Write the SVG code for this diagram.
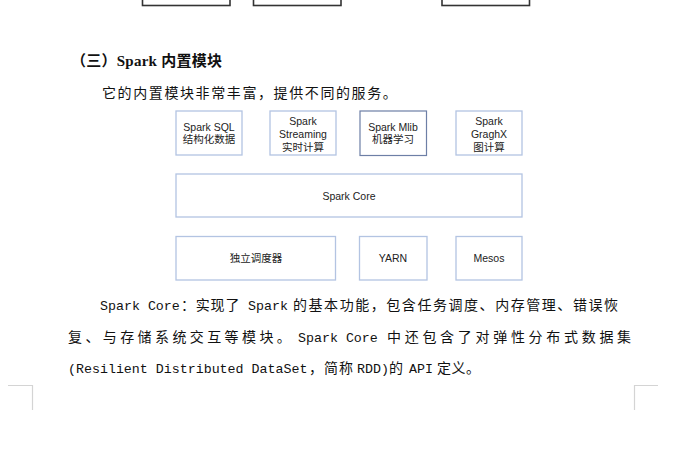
<svg xmlns="http://www.w3.org/2000/svg" width="685" height="449" viewBox="0 0 685 449">
<style>
.bg{fill:#ffffff}
.topbox{fill:#ffffff;stroke:#333333;stroke-width:1.6}
.box{fill:#ffffff;stroke:#b3c4e2;stroke-width:1.3}
.box.dark{stroke:#6d7fa6;stroke-width:1.2}
.lbl{font-family:"Liberation Sans","Noto Sans CJK SC",Arial,sans-serif;font-size:10.5px;fill:#222222;text-anchor:middle}
.head{font-family:"Liberation Serif","Noto Sans CJK SC",serif;font-size:15px;font-weight:bold;fill:#111111}
.body{fill:#111111}
.a{font-family:"Liberation Mono","Noto Sans CJK SC",monospace;font-size:13.3px}
.c{font-family:"Noto Sans CJK SC","Liberation Sans",sans-serif;font-size:14px}
.corner{fill:none;stroke:#d4d4d4;stroke-width:1.2}
</style>
<rect class="bg" x="0" y="0" width="685" height="449"/>
<g id="prev-boxes">
<rect class="topbox" x="142.5" y="-10" width="87.5" height="15.5"/>
<rect class="topbox" x="253.5" y="-10" width="87.5" height="15.5"/>
<rect class="topbox" x="442" y="-10" width="87.5" height="15.5"/>
</g>
<text class="head" x="71" y="66" textLength="151" lengthAdjust="spacing">（三）Spark 内置模块</text>
<text class="body c" x="102" y="98" style="letter-spacing:1.6px">它的内置模块非常丰富，提供不同的服务。</text>
<g id="connectors"></g>
<g id="spark-sql">
<rect class="box" x="176" y="111" width="66" height="44"/>
<text class="lbl" x="209" y="131">Spark SQL</text>
<text class="lbl" x="209" y="143">结构化数据</text>
</g>
<g id="spark-streaming">
<rect class="box" x="270" y="111" width="66" height="44"/>
<text class="lbl" x="303" y="125">Spark</text>
<text class="lbl" x="303" y="137.5">Streaming</text>
<text class="lbl" x="303" y="150.5">实时计算</text>
</g>
<g id="spark-mlib">
<rect class="box dark" x="360" y="111" width="66.5" height="44.5"/>
<text class="lbl" x="393" y="131">Spark Mlib</text>
<text class="lbl" x="393" y="143">机器学习</text>
</g>
<g id="spark-graphx">
<rect class="box" x="456" y="111" width="66" height="44"/>
<text class="lbl" x="489" y="125">Spark</text>
<text class="lbl" x="489" y="137.5">GraghX</text>
<text class="lbl" x="489" y="150.5">图计算</text>
</g>
<g id="spark-core">
<rect class="box" x="176" y="174" width="346" height="43"/>
<text class="lbl" x="349" y="199.5">Spark Core</text>
</g>
<g id="standalone">
<rect class="box" x="176" y="236.5" width="159.5" height="43.5"/>
<text class="lbl" x="256" y="262">独立调度器</text>
</g>
<g id="yarn">
<rect class="box" x="359.5" y="236.5" width="67.5" height="43.5"/>
<text class="lbl" x="393" y="262">YARN</text>
</g>
<g id="mesos">
<rect class="box" x="456" y="236.5" width="66" height="43.5"/>
<text class="lbl" x="489" y="262">Mesos</text>
</g>
<text class="body" y="310"><tspan class="a" x="100">Spark Core</tspan><tspan class="c" x="181" style="letter-spacing:0.8px">：实现了</tspan><tspan class="a" x="248">Spark</tspan><tspan class="c" x="293" style="letter-spacing:1.55px">的基本功能，包含任务调度、内存管理、错误恢</tspan></text>
<text class="body" y="341.5"><tspan class="c" x="68" style="letter-spacing:3.4px">复、与存储系统交互等模块。</tspan><tspan class="a" x="298">Spark Core</tspan><tspan class="c" x="387" style="letter-spacing:3.7px">中还包含了对弹性分布式数据集</tspan></text>
<text class="body" y="373"><tspan class="a" x="68">(Resilient Distributed DataSet</tspan><tspan class="c" x="309" style="letter-spacing:1px">，简称</tspan><tspan class="a" x="357">RDD)</tspan><tspan class="c" x="389">的</tspan><tspan class="a" x="409">API</tspan><tspan class="c" x="437" style="letter-spacing:0.5px">定义。</tspan></text>
<path class="corner" d="M8 385.5 H32.5 V410"/>
<path class="corner" d="M658 385.5 H634.5 V410"/>
</svg>
